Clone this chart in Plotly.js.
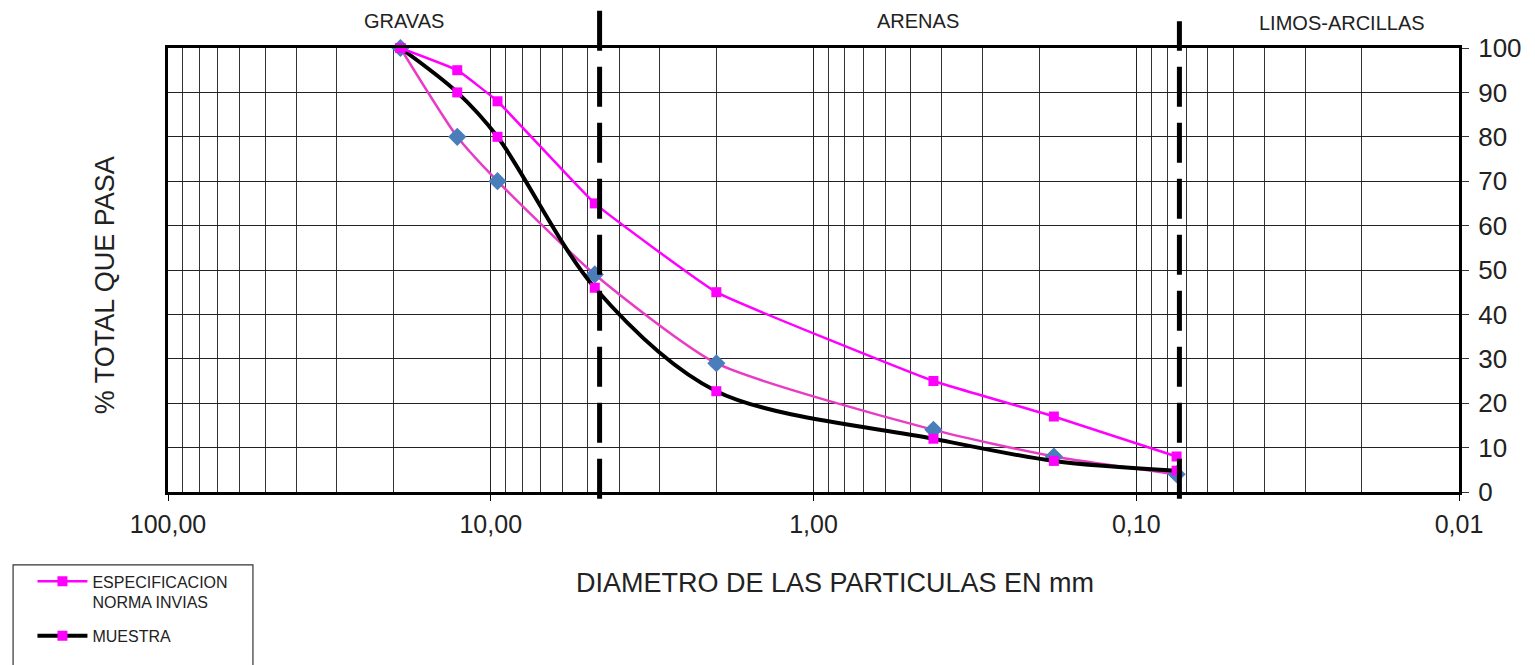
<!DOCTYPE html>
<html>
<head>
<meta charset="utf-8">
<script src="https://cdn.plot.ly/plotly-3.0.1.min.js"></script>
<style>
  html, body { margin: 0; padding: 0; background: #ffffff; }
  #chart { width: 1535px; height: 665px; }
</style>
</head>
<body>
<div id="chart"></div>
<script>
// ---- data ----
const sieveSizes = [19.05, 12.7, 9.53, 4.76, 2.0, 0.425, 0.18, 0.075];
const specUpper  = [100, 95, 88, 65, 45, 25, 17, 8];
const specLower  = [100, 80, 70, 49, 29, 14, 8, 4];
const muestra    = [100, 90, 80, 46, 22.7, 12, 7, 4.8];
const xTickVals  = [100, 10, 1, 0.1, 0.01];
const xTickText  = ["100,00", "10,00", "1,00", "0,10", "0,01"];
const dividers   = [4.6, 0.0735];
const regionLabels = ["GRAVAS", "ARENAS", "LIMOS-ARCILLAS"];
const legendNames = ["ESPECIFICACION<br>NORMA INVIAS", "MUESTRA"];
const yTitle = "% TOTAL QUE PASA";
const xTitle = "DIAMETRO DE LAS PARTICULAS EN mm";

// minor vertical gridlines (each digit of each decade)
const minorVals = [];
for (let e = -2; e < 2; e++) {
  for (let d = 2; d <= 9; d++) minorVals.push(d * Math.pow(10, e));
}

const FONT = "Liberation Sans, Arial, sans-serif";
const MAG = "#ff00ff";
const PINK = "#e83cc4";
const BLUE = "#4a7ebb";

const traces = [
  {
    x: sieveSizes, y: specLower, type: "scatter", mode: "lines+markers",
    line: { color: PINK, width: 2.5, shape: "spline", smoothing: 0.6 },
    marker: { symbol: "diamond", size: 14, color: BLUE },
    showlegend: false, cliponaxis: false
  },
  {
    x: sieveSizes, y: muestra, type: "scatter", mode: "lines+markers",
    name: legendNames[1], legendgroup: "b",
    line: { color: "#000000", width: 4, shape: "spline", smoothing: 0.9 },
    marker: { symbol: "square", size: 10, color: MAG },
    cliponaxis: false, legendrank: 2
  },
  {
    x: sieveSizes, y: specUpper, type: "scatter", mode: "lines+markers",
    name: legendNames[0], legendgroup: "a",
    line: { color: MAG, width: 2.5, shape: "spline", smoothing: 0.3 },
    marker: { symbol: "square", size: 10, color: MAG },
    cliponaxis: false, legendrank: 1
  }
];

const shapes = [
  // legend frame
  { type: "rect", xref: "paper", yref: "paper",
    x0: -0.120, x1: 0.0658, y0: -0.164, y1: -0.45,
    line: { color: "#333333", width: 1.2 }, fillcolor: "rgba(0,0,0,0)" },
  // region dividers
  { type: "line", xref: "x", yref: "paper", x0: dividers[0], x1: dividers[0],
    y0: -0.015, y1: 1.085, line: { color: "#000000", width: 5, dash: "40px,16px" } },
  { type: "line", xref: "x", yref: "paper", x0: dividers[1], x1: dividers[1],
    y0: -0.015, y1: 1.06, line: { color: "#000000", width: 5, dash: "40px,16px" } }
];

const annotations = [
  { text: regionLabels[0], xref: "paper", yref: "paper", x: 0.183, y: 1.061,
    xanchor: "center", yanchor: "middle",
    showarrow: false, font: { family: FONT, size: 20, color: "#222" } },
  { text: regionLabels[1], xref: "paper", yref: "paper", x: 0.581, y: 1.061,
    xanchor: "center", yanchor: "middle",
    showarrow: false, font: { family: FONT, size: 20, color: "#222" } },
  { text: regionLabels[2], xref: "paper", yref: "paper", x: 0.909, y: 1.057,
    xanchor: "center", yanchor: "middle",
    showarrow: false, font: { family: FONT, size: 20, color: "#222" } },
  { text: yTitle, xref: "paper", yref: "paper", x: -0.049, y: 0.465,
    xanchor: "center", yanchor: "middle",
    textangle: -90, showarrow: false, font: { family: FONT, size: 27, color: "#222" } },
  { text: xTitle, xref: "paper", yref: "paper", x: 0.517, y: -0.2045,
    xanchor: "center", yanchor: "middle",
    showarrow: false, font: { family: FONT, size: 27, color: "#222" } }
];

const layout = {
  width: 1535, height: 665,
  margin: { l: 168, r: 76, t: 48, b: 173 },
  paper_bgcolor: "#ffffff", plot_bgcolor: "#ffffff",
  font: { family: FONT, color: "#222" },
  xaxis: {
    type: "log", range: [2, -2],
    tickmode: "array", tickvals: xTickVals, ticktext: xTickText,
    ticks: "outside", ticklen: 6, tickcolor: "#000",
    tickfont: { family: FONT, size: 25, color: "#222" },
    ticklabelstandoff: 2,
    showgrid: true, gridcolor: "#222", gridwidth: 1,
    minor: { tickvals: minorVals, showgrid: true, gridcolor: "#333", gridwidth: 1, ticks: "" },
    showline: true, linecolor: "#000", linewidth: 3, mirror: true,
    zeroline: false, fixedrange: true
  },
  yaxis: {
    range: [0, 100], side: "right", dtick: 10, tick0: 0,
    ticks: "outside", ticklen: 7, tickcolor: "#333",
    tickfont: { family: FONT, size: 26, color: "#222" },
    ticklabelstandoff: 4,
    showgrid: true, gridcolor: "#222", gridwidth: 1,
    showline: true, linecolor: "#000", linewidth: 3, mirror: true,
    zeroline: false, fixedrange: true
  },
  showlegend: true,
  legend: {
    x: -0.105, y: -0.163, xanchor: "left", yanchor: "top",
    bgcolor: "rgba(0,0,0,0)", borderwidth: 0,
    font: { family: FONT, size: 16, color: "#222" },
    itemwidth: 50, valign: "top", tracegroupgap: 10,
    traceorder: "grouped"
  },
  shapes: shapes,
  annotations: annotations
};

Plotly.newPlot("chart", traces, layout, { displayModeBar: false, staticPlot: true });
</script>
</body>
</html>
